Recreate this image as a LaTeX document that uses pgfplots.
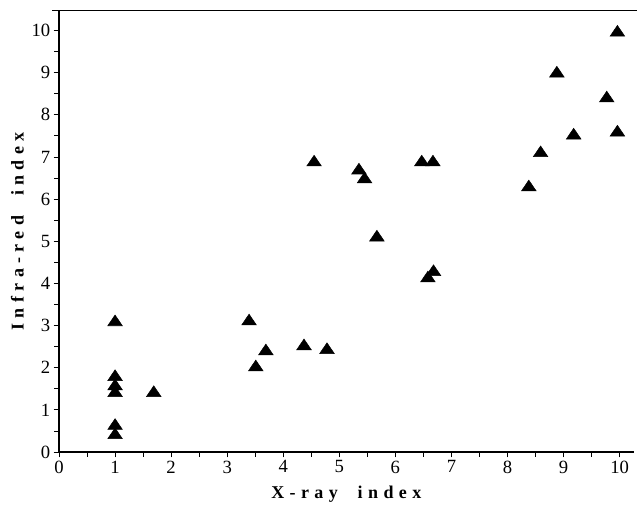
\documentclass[border=0pt]{standalone}
\usepackage{fontspec}
\setmainfont{Liberation Serif}
\newfontfamily\spaced[LetterSpace=30,WordSpace=2]{Liberation Serif}
\usepackage{pgfplots}
\pgfplotsset{compat=1.18}
\begin{document}
\begin{tikzpicture}[x=1pt,y=1pt]
\begin{axis}[
  name=ax,
  scale only axis,
  width=431pt, height=331pt,
  xmin=0, xmax=10.25, ymin=0, ymax=10.47,
  axis x line*=bottom, axis y line*=left,
  axis line style={line width=0.8pt, -},
  xtick={0,...,10}, ytick={0,...,10},
  minor tick num=1,
  tick align=outside,
  major tick length=4pt, minor tick length=3.5pt,
  tick style={black, line width=0.6pt},
  ticklabel style={font=\fontsize{14}{15}\selectfont},
  xticklabel style={yshift=1pt},
  yticklabel style={xshift=1pt},
  /pgf/number format/assume math mode=true,
  xlabel={X-ray index},
  ylabel={Infra-red index},
  label style={font=\spaced\fontsize{13.5}{14}\selectfont\bfseries},
  xlabel style={yshift=-3pt},
  ylabel style={yshift=-1pt},
  clip=false,
]
\addplot[only marks, mark=triangle*, mark size=6.3pt, mark options={fill=black, draw=black, yscale=0.85}] coordinates {
(1,3.08) (1,1.78) (1,1.56) (1,1.40) (1,0.62) (1,0.40)
(1.69,1.40) (3.39,3.10) (3.51,2.01) (3.69,2.39) (4.37,2.51) (4.78,2.42)
(4.55,6.87) (5.35,6.68) (5.45,6.47) (5.67,5.09) (6.47,6.87) (6.67,6.87)
(6.58,4.12) (6.68,4.27) (8.38,6.28) (8.59,7.09) (8.88,8.98) (9.18,7.51)
(9.77,8.39) (9.96,7.58) (9.96,9.95)
};
\end{axis}
\draw[line width=0.8pt] ([xshift=-5pt]ax.north west) -- ([xshift=(637-59)*0.75pt-431pt]ax.north east);
\pgfresetboundingbox
\path[use as bounding box] ([shift={(-59*0.75pt,-55*0.75pt)}]ax.south west) rectangle ++(637*0.75pt,507*0.75pt);
\end{tikzpicture}
\end{document}
